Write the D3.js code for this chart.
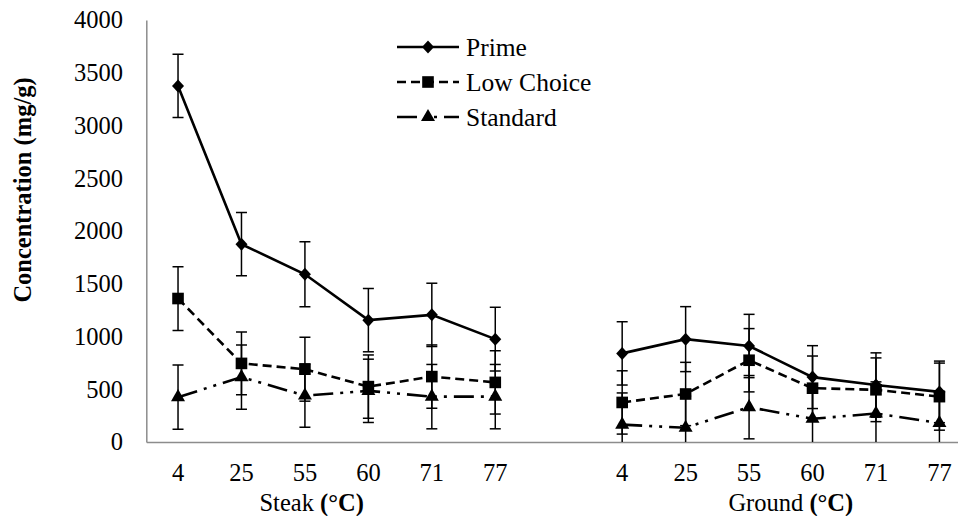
<!DOCTYPE html>
<html>
<head>
<meta charset="utf-8">
<script src="https://cdn.jsdelivr.net/npm/d3@7"></script>
<style>
  html, body { margin: 0; padding: 0; background: #fff; }
  svg { display: block; }
  svg text { font-family: "Liberation Serif", "DejaVu Serif", serif !important; fill: #000; }
</style>
</head>
<body>
<svg id="chart" width="958" height="516" font-family="Liberation Serif"></svg>
<script>
// ---- data ----
const groups = ["Steak", "Ground"];
const temps = ["4", "25", "55", "60", "71", "77"];
const yTicks = [0, 500, 1000, 1500, 2000, 2500, 3000, 3500, 4000];
const seriesNames = ["Prime", "Low Choice", "Standard"];

const primeSteak = [3375, 1875, 1590, 1155, 1205, 975];
const primeGround = [840, 975, 910, 615, 540, 475];
const primeSteakErr = [300, 300, 308, 300, 300, 302];
const primeGroundErr = [300, 308, 300, 298, 305, 292];

const lowChoiceSteak = [1360, 745, 690, 525, 620, 565];
const lowChoiceGround = [375, 455, 775, 510, 495, 430];
const lowChoiceSteakErr = [302, 298, 303, 300, 300, 300];
const lowChoiceGroundErr = [300, 300, 300, 305, 302, 318];

const standardSteak = [425, 615, 440, 485, 430, 430];
const standardGround = [165, 135, 330, 220, 270, 180];
const standardSteakErr = [305, 305, 300, 300, 305, 305];
const standardGroundErr = [300, 300, 300, 300, 300, 300];

// ---- layout ----
const FONT = "Liberation Serif";
const svg = d3.select("#chart");
const mLeft = 146.3, mTop = 20, mBottom = 442;
const band = 63.45;
const keys = [];
groups.forEach((g, gi) => {
  if (gi > 0) keys.push("gap" + gi);
  temps.forEach(t => keys.push(g + "-" + t));
});
const x = d3.scaleBand().domain(keys).range([mLeft, mLeft + band * keys.length]).padding(0);
const cx = k => x(k) + x.bandwidth() / 2;
const y = d3.scaleLinear().domain([0, 4000]).range([mBottom, mTop]);

const series = [
  { name: seriesNames[0], marker: "diamond", dash: null,
    data: [primeSteak, primeGround], err: [primeSteakErr, primeGroundErr] },
  { name: seriesNames[1], marker: "square", dash: "9,5",
    data: [lowChoiceSteak, lowChoiceGround], err: [lowChoiceSteakErr, lowChoiceGroundErr] },
  { name: seriesNames[2], marker: "triangle", dash: "20,7,3,7,3,7",
    data: [standardSteak, standardGround], err: [standardSteakErr, standardGroundErr] }
];

const diamondPath = "M0,-6.5L6,0L0,6.5L-6,0Z";
const symbolFor = m => m === "diamond" ? diamondPath
  : m === "square" ? d3.symbol().type(d3.symbolSquare).size(135)()
  : d3.symbol().type(d3.symbolTriangle).size(85)();

// clip
svg.append("defs").append("clipPath").attr("id", "plotclip")
  .append("rect").attr("x", mLeft).attr("y", 0).attr("width", 958 - mLeft).attr("height", mBottom);

// axes
const yAxis = d3.axisLeft(y).tickValues(yTicks).tickSize(0).tickPadding(23).tickFormat(d3.format("d"));
const gy = svg.append("g").attr("transform", `translate(${mLeft},0)`).call(yAxis)
  .attr("font-family", FONT).attr("font-size", 24.5);
gy.select(".domain").attr("stroke", "#8c8c8c").attr("stroke-width", 1.5);
gy.selectAll("text").attr("font-size", 24.5).attr("font-family", FONT)
  .attr("dy", "0.32em").attr("x", -23.3).attr("fill", "#000");

const xAxis = d3.axisBottom(x).tickSize(0).tickPadding(0).tickFormat(k => k.startsWith("gap") ? "" : k.split("-")[1]);
const gx = svg.append("g").attr("transform", `translate(0,${mBottom})`).call(xAxis)
  .attr("font-family", FONT).attr("font-size", 24.5);
gx.select(".domain").attr("stroke", "#8c8c8c").attr("stroke-width", 1.5);
gx.selectAll("text").attr("font-size", 24.5).attr("font-family", FONT)
  .attr("y", 39).attr("dy", 0).attr("fill", "#000");

// group labels
groups.forEach((g, gi) => {
  const first = cx(g + "-" + temps[0]);
  const last = cx(g + "-" + temps[temps.length - 1]);
  const off = gi === 0 ? -25 : 10;
  const t = svg.append("text").attr("x", (first + last) / 2 + off).attr("y", 511)
    .attr("text-anchor", "middle").attr("font-size", 24.5).attr("font-family", FONT);
  t.append("tspan").text(g + " ");
  t.append("tspan").attr("font-weight", "bold").text("(°C)");
});

// y title
svg.append("text")
  .attr("transform", `translate(31,${190}) rotate(-90)`)
  .attr("text-anchor", "middle").attr("font-size", 24.5).attr("font-weight", "bold")
  .attr("font-family", FONT)
  .text("Concentration (mg/g)");

// error bars
const plot = svg.append("g").attr("clip-path", "url(#plotclip)");
series.forEach(s => {
  groups.forEach((g, gi) => {
    temps.forEach((t, i) => {
      const xx = cx(g + "-" + t);
      const v = s.data[gi][i], e = s.err[gi][i];
      const y1 = y(v + e), y2 = y(v - e);
      plot.append("line").attr("x1", xx).attr("x2", xx).attr("y1", y1).attr("y2", y2)
        .attr("stroke", "#000").attr("stroke-width", 1.5);
      [y1, y2].forEach(yy => plot.append("line").attr("x1", xx - 5.5).attr("x2", xx + 5.5)
        .attr("y1", yy).attr("y2", yy).attr("stroke", "#000").attr("stroke-width", 1.5));
    });
  });
});

// lines and markers
series.forEach(s => {
  groups.forEach((g, gi) => {
    const pts = temps.map((t, i) => [cx(g + "-" + t), y(s.data[gi][i])]);
    svg.append("path").attr("d", d3.line()(pts)).attr("fill", "none")
      .attr("stroke", "#000").attr("stroke-width", 2.6)
      .attr("stroke-dasharray", s.dash);
    svg.selectAll(null).data(pts).enter().append("path")
      .attr("d", symbolFor(s.marker))
      .attr("transform", d => `translate(${d[0]},${d[1]})`)
      .attr("fill", "#000");
  });
});

// legend
const lg = svg.append("g");
series.forEach((s, i) => {
  const ly = 47 + i * 35;
  lg.append("line").attr("x1", 397).attr("x2", 459).attr("y1", ly).attr("y2", ly)
    .attr("stroke", "#000").attr("stroke-width", 2.6).attr("stroke-dasharray", s.dash);
  lg.append("path").attr("d", symbolFor(s.marker)).attr("transform", `translate(428,${ly})`).attr("fill", "#000");
  lg.append("text").attr("x", 466).attr("y", ly + 8.5).attr("font-size", 25.5)
    .attr("font-family", FONT).text(s.name);
});
</script>
</body>
</html>
